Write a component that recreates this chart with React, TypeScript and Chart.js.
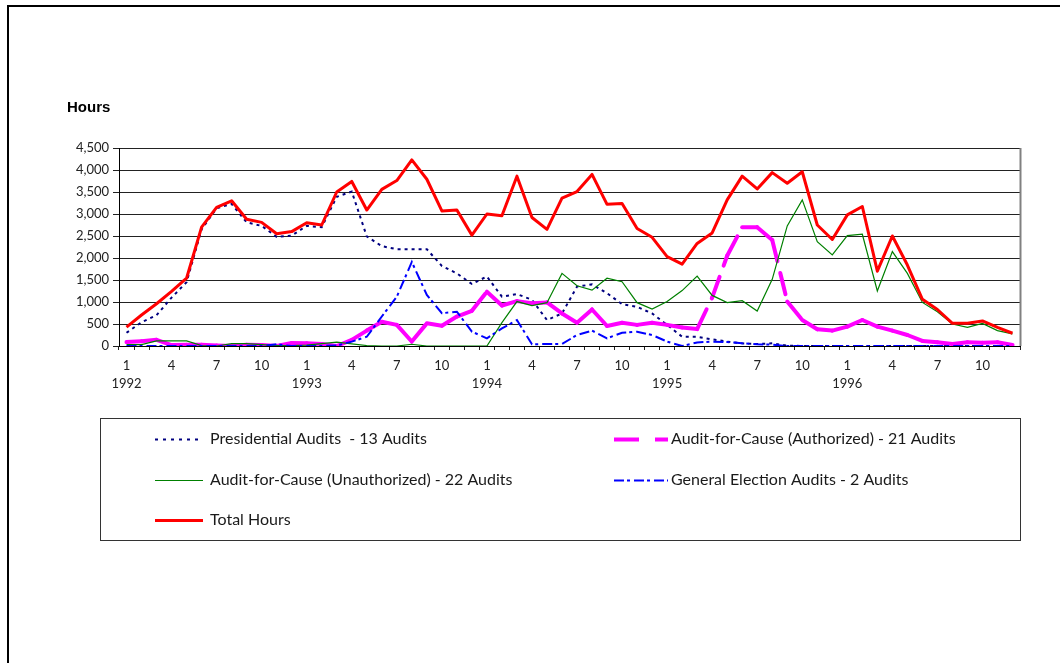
import React, { useEffect, useRef } from 'react';
import { Chart, registerables } from 'chart.js';

Chart.register(...registerables);

const years = ['1992', '1993', '1994', '1995', '1996'];
const months = [1, 2, 3, 4, 5, 6, 7, 8, 9, 10, 11, 12];
const labeledMonths = [1, 4, 7, 10];
const categories = years.flatMap((y) => months.map((m) => `${y}-${m}`));

const yMin = 0;
const yMax = 4500;
const yStep = 500;

const seriesLabels = [
  'Presidential Audits  - 13 Audits',
  'Audit-for-Cause (Authorized) - 21 Audits',
  'Audit-for-Cause (Unauthorized) - 22 Audits',
  'General Election Audits - 2 Audits',
  'Total Hours',
];

const presidential = [
  300, 540, 700, 1100, 1450, 2650, 3130, 3230, 2810, 2730, 2480, 2510,
  2730, 2700, 3390, 3510, 2490, 2270, 2200, 2200, 2200, 1820, 1650, 1410,
  1580, 1120, 1180, 1050, 590, 740, 1350, 1400, 1200, 950, 890, 740,
  480, 210, 210, 150, 100, 60, 45, 60, 10, 0, 0, 0,
  0, 0, 0, 0, 0, 0, 0, 0, 0, 0, 0, 0,
];

const authorized = [
  90, 110, 140, 20, 30, 30, 10, 0, 30, 20, 0, 70,
  60, 45, 0, 140, 350, 550, 480, 100, 515, 460, 670, 800,
  1235, 920, 1020, 970, 990, 740, 530, 830, 455, 530, 480, 530,
  480, 420, 385, 1100, 2050, 2700, 2700, 2410, 1010, 590, 380, 350,
  440, 590, 440, 350, 250, 115, 85, 45, 85, 75, 85, 25,
];

const unauthorized = [
  30, 30, 115, 115, 115, 10, 0, 55, 55, 30, 10, 10,
  20, 55, 90, 50, 10, 0, 0, 40, 0, 0, 0, 0,
  0, 530, 1010, 920, 985, 1650, 1370, 1270, 1540, 1460, 985, 840,
  1010, 1260, 1590, 1150, 985, 1030, 795, 1515, 2730, 3320, 2370, 2070,
  2510, 2540, 1250, 2145, 1650, 990, 780, 500, 425, 515, 350, 275,
];

const generalElection = [
  0, 0, 0, 0, 0, 0, 0, 0, 0, 0, 40, 0,
  0, 0, 10, 100, 210, 670, 1120, 1910, 1160, 745, 780, 325,
  175, 400, 590, 40, 45, 45, 250, 350, 175, 300, 325, 250,
  100, 0, 80, 100, 90, 60, 40, 30, 0, 0, 0, 0,
  0, 0, 0, 0, 0, 0, 0, 0, 0, 0, 0, 0,
];

const totalHours = [
  430, 705, 960, 1240, 1540, 2700, 3150, 3300, 2880, 2810, 2550, 2600,
  2800, 2750, 3500, 3740, 3090, 3560, 3760, 4230, 3790, 3070, 3090, 2520,
  3000, 2960, 3860, 2920, 2650, 3360, 3510, 3900, 3220, 3240, 2670, 2470,
  2030, 1860, 2330, 2570, 3320, 3860, 3570, 3940, 3700, 3960, 2750, 2420,
  2980, 3170, 1700, 2500, 1840, 1060, 830, 515, 515, 570, 425, 290,
];

const W = 1060;
const H = 663;

const legendSlots = [
  { x: 155, w: 48, tx: 210, y: 439 },
  { x: 614, w: 54, tx: 671, y: 439 },
  { x: 155, w: 48, tx: 210, y: 480 },
  { x: 614, w: 54, tx: 671, y: 480 },
  { x: 155, w: 48, tx: 210, y: 520 },
];

const framePlugin = {
  id: 'frameAndLegend',
  afterDraw(chart: any) {
    const ctx = chart.ctx as CanvasRenderingContext2D;
    const { top, bottom, right } = chart.chartArea;
    ctx.save();
    // right plot border
    ctx.strokeStyle = '#808080';
    ctx.lineWidth = 2;
    ctx.beginPath();
    ctx.moveTo(right + 0.5, top);
    ctx.lineTo(right + 0.5, bottom);
    ctx.stroke();

    // outer frame (top & left)
    ctx.fillStyle = '#000';
    ctx.fillRect(7, 5, W - 7, 2);
    ctx.fillRect(7, 5, 2, H - 5);

    // axis title
    ctx.fillStyle = '#000';
    ctx.font = 'bold 15px "Liberation Sans", Arial, sans-serif';
    ctx.textBaseline = 'middle';
    ctx.textAlign = 'left';
    ctx.fillText('Hours', 67, 108);

    // legend box
    ctx.strokeStyle = '#333';
    ctx.lineWidth = 1;
    ctx.strokeRect(100.5, 418.5, 920, 122);

    const datasets = chart.data.datasets;
    datasets.forEach((ds: any, i: number) => {
      const slot = legendSlots[i];
      ctx.save();
      ctx.strokeStyle = ds.borderColor;
      ctx.lineWidth = ds.borderWidth;
      ctx.lineCap = 'butt';
      ctx.setLineDash(ds.legendDash || []);
      ctx.beginPath();
      ctx.moveTo(slot.x, slot.y + 0.5);
      ctx.lineTo(slot.x + slot.w, slot.y + 0.5);
      ctx.stroke();
      ctx.restore();
      ctx.fillStyle = '#1a1a1a';
      ctx.font = '16px Lato, "Noto Sans", sans-serif';
      ctx.textBaseline = 'middle';
      ctx.fillText(ds.label, slot.tx, slot.y);
    });
    ctx.restore();
  },
};

export default function App() {
  const ref = useRef<HTMLCanvasElement>(null);

  useEffect(() => {
    const canvas = ref.current;
    if (!canvas) return;
    const tickFont = { family: 'Lato, "Noto Sans", sans-serif', size: 13, lineHeight: 1.35 };
    const chart = new Chart(canvas, {
      type: 'line',
      data: {
        labels: categories,
        datasets: [
          {
            label: seriesLabels[0],
            data: presidential,
            borderColor: '#000080',
            borderWidth: 2,
            borderDash: [3, 4],
            legendDash: [3, 5],
            order: 5,
          } as any,
          {
            label: seriesLabels[1],
            data: authorized,
            borderColor: '#FF00FF',
            borderWidth: 4,
            borderDash: [22, 12],
            borderCapStyle: 'round',
            borderJoinStyle: 'round',
            legendDash: [25, 16],
            segment: {
              borderDashOffset: (c: any) => c.p0DataIndex * 0.001,
            },
            order: 4,
          } as any,
          {
            label: seriesLabels[2],
            data: unauthorized,
            borderColor: '#008000',
            borderWidth: 1.2,
            legendDash: [],
            order: 3,
          } as any,
          {
            label: seriesLabels[3],
            data: generalElection,
            borderColor: '#0000FF',
            borderWidth: 2,
            borderDash: [10, 3, 3, 4],
            legendDash: [10, 3, 3, 4],
            order: 2,
          } as any,
          {
            label: seriesLabels[4],
            data: totalHours,
            borderColor: '#FF0000',
            borderWidth: 3,
            borderJoinStyle: 'round',
            legendDash: [],
            order: 1,
          } as any,
        ],
      },
      options: {
        animation: false,
        responsive: false,
        devicePixelRatio: 1,
        layout: { padding: { left: 0, right: 40, top: 148, bottom: 0 } },
        elements: { point: { radius: 0, hoverRadius: 0 }, line: { tension: 0, fill: false } },
        plugins: {
          legend: { display: false },
          title: { display: false },
          tooltip: { enabled: false },
        },
        scales: {
          x: {
            type: 'category',
            offset: true,
            grid: {
              display: true,
              drawOnChartArea: false,
              drawTicks: true,
              tickLength: 4,
              color: '#222',
              offset: true,
            },
            border: { display: true, color: '#000', width: 1 },
            ticks: {
              autoSkip: false,
              maxRotation: 0,
              minRotation: 0,
              padding: 7,
              color: '#222',
              font: tickFont,
              callback: (_v: any, i: number) => {
                const m = months[i % 12];
                const y = years[Math.floor(i / 12)];
                if (m === 1) return [String(m), y];
                if (labeledMonths.includes(m)) return String(m);
                return '';
              },
            },
            afterFit: (s: any) => {
              s.height = H - 346;
            },
          },
          y: {
            min: yMin,
            max: yMax,
            grid: { color: '#222', lineWidth: 1, tickLength: 6, drawTicks: true },
            border: { display: true, color: '#000', width: 1 },
            ticks: {
              stepSize: yStep,
              padding: 4,
              color: '#222',
              font: tickFont,
              callback: (v: any) => Number(v).toLocaleString('en-US'),
            },
            afterFit: (s: any) => {
              s.width = 119;
            },
          },
        },
      } as any,
      plugins: [framePlugin],
    });
    return () => chart.destroy();
  }, []);

  return (
    <canvas
      ref={ref}
      width={W}
      height={H}
      style={{ position: 'fixed', left: 0, top: 0, display: 'block', background: '#fff' }}
    />
  );
}
